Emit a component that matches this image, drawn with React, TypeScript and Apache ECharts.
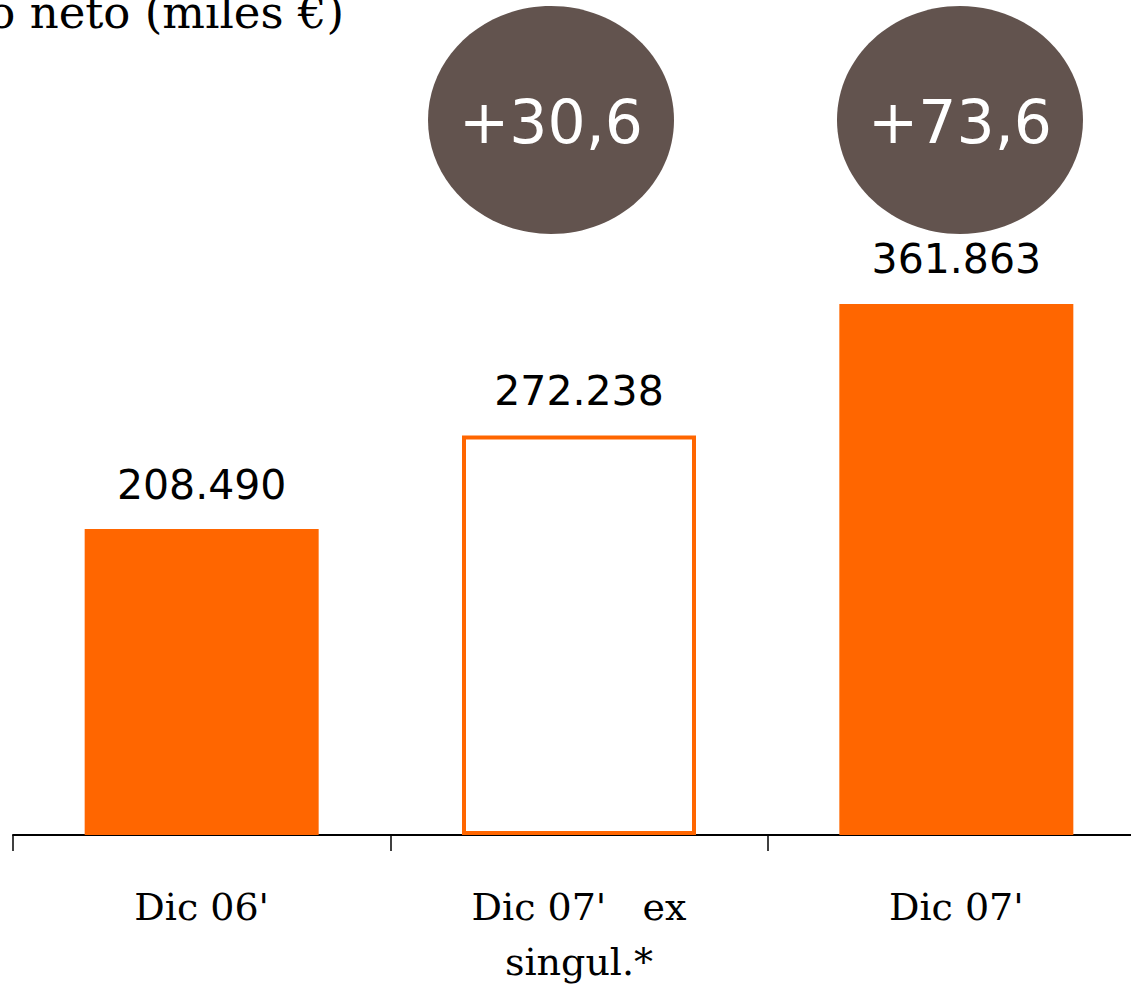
import React, { useEffect, useRef } from "react";
import * as echarts from "echarts";

const categories = ["Dic 06'", "Dic 07'   ex\nsingul.*", "Dic 07'"];
const values = [208490, 272238, 361863];
const valueLabels = ["208.490", "272.238", "361.863"];
const growthLabels = ["+30,6", "+73,6"];
const titleText = "Beneficio neto (miles €)";

const ORANGE = "#FF6600";
const BROWN = "#62534E";

export default function App() {
  const ref = useRef<HTMLDivElement>(null);
  useEffect(() => {
    if (!ref.current) return;
    const chart = echarts.init(ref.current, undefined, { renderer: "svg" });
    const barData = values.map((v, i) =>
      i === 1
        ? {
            value: v,
            itemStyle: { color: "#ffffff", borderColor: ORANGE, borderWidth: 4 },
          }
        : { value: v, itemStyle: { color: ORANGE } }
    );
    const circleX = [551, 960];
    chart.setOption({
      animation: false,
      backgroundColor: "#ffffff",
      grid: {
        left: 13,
        width: 1132,
        top: 248,
        height: 587,
        containLabel: false,
        outerBoundsMode: "none",
      },
      xAxis: {
        type: "category",
        data: categories,
        axisLine: { lineStyle: { color: "#000", width: 2 } },
        axisTick: { show: true, length: 16, lineStyle: { color: "#000", width: 1.5 } },
        axisLabel: {
          color: "#000",
          fontFamily: "DejaVu Serif",
          fontSize: 38,
          lineHeight: 55,
          margin: 44,
          interval: 0,
        },
      },
      yAxis: { type: "value", min: 0, max: 400000, show: false },
      series: [
        {
          type: "bar",
          data: barData,
          barWidth: 234,
          label: {
            show: true,
            position: "top",
            distance: 24,
            color: "#000",
            fontFamily: "DejaVu Sans",
            fontSize: 41,
            formatter: (p: any) => valueLabels[p.dataIndex],
          },
        },
      ],
      graphic: [
        {
          type: "text",
          x: 344,
          y: 12,
          style: {
            text: titleText,
            fill: "#000",
            font: "45px 'DejaVu Serif'",
            align: "right",
            verticalAlign: "middle",
          },
        },
        ...growthLabels.flatMap((g, i) => [
          {
            type: "ellipse",
            shape: { cx: circleX[i], cy: 120, rx: 123, ry: 114 },
            style: { fill: BROWN },
          },
          {
            type: "text",
            x: circleX[i],
            y: 122,
            style: {
              text: g,
              fill: "#fff",
              font: "60px 'DejaVu Sans'",
              align: "center",
              verticalAlign: "middle",
            },
          },
        ]),
      ],
    });
    return () => chart.dispose();
  }, []);
  return (
    <div
      ref={ref}
      style={{ position: "absolute", left: 0, top: 0, width: 1131, height: 986 }}
    />
  );
}
